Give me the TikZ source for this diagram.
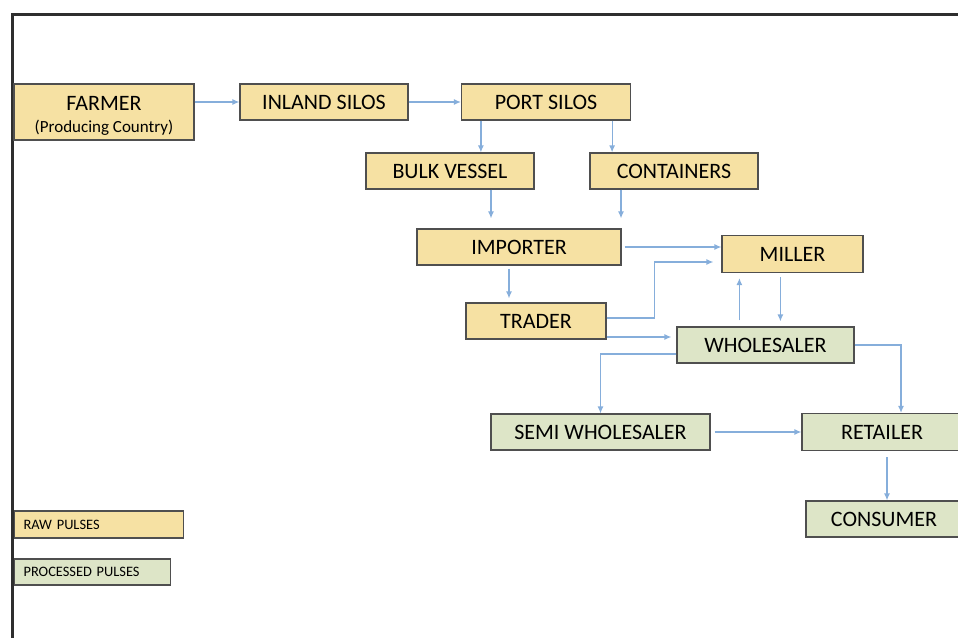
\documentclass[tikz,border=0pt]{standalone}
\usepackage{fontspec}
\setmainfont{Carlito}
\usetikzlibrary{calc,arrows.meta}
\definecolor{sand}{HTML}{F6E1A3}
\definecolor{sage}{HTML}{DDE5C7}
\definecolor{edgegray}{HTML}{4F4F4F}
\definecolor{flowblue}{HTML}{86AEDB}
\definecolor{framegray}{HTML}{2E2E2E}

\begin{document}
\begin{tikzpicture}[x=1pt,y=-1pt,
		box/.style={draw=edgegray,line width=1.2pt,inner sep=0pt,font=\fontsize{22}{24}\selectfont},
		raw/.style={box,fill=sand},
		processed/.style={box,fill=sage},
		key/.style={font=\fontsize{14.4}{16}\selectfont,align=left,inner xsep=9pt},
		flow/.style={draw=flowblue,line width=1.2pt,-{Latex[length=7pt,width=6pt]}}]
	\useasboundingbox (0,0) rectangle (958,637);
	\clip (0,0) rectangle (958,637);
	\draw[framegray,line width=3pt] (12,650) -- (12,14) -- (970,14);
	\node[raw,minimum width=180pt,minimum height=56pt,align=center] (farmer) at (104,112) {\rule{0pt}{22pt}FARMER\\[-2pt]{\fontsize{17}{19}\selectfont(Producing Country)}};
	\node[raw,minimum width=168pt,minimum height=36pt] (inland) at (324,102) {INLAND SILOS};
	\node[raw,minimum width=169pt,minimum height=36pt] (port) at (546,102) {PORT SILOS};
	\node[raw,minimum width=168pt,minimum height=36pt] (bulk) at (450,171) {BULK VESSEL};
	\node[raw,minimum width=168pt,minimum height=36pt] (containers) at (674,171) {CONTAINERS};
	\node[raw,minimum width=204pt,minimum height=36pt] (importer) at (519,247) {IMPORTER};
	\node[raw,minimum width=141pt,minimum height=37pt] (miller) at (792.5,254) {MILLER};
	\node[raw,minimum width=140pt,minimum height=36pt] (trader) at (536,321) {TRADER};
	\node[processed,minimum width=177pt,minimum height=36pt] (wholesaler) at (765.5,345) {WHOLESALER};
	\node[processed,minimum width=219pt,minimum height=36pt] (semi) at (600.5,432) {SEMI WHOLESALER};
	\node[processed,minimum width=160pt,minimum height=37pt] (retailer) at (882,432) {RETAILER};
	\node[processed,minimum width=156pt,minimum height=36pt] (consumer) at (884,519) {CONSUMER};
	\node[raw,key,text width=151pt,minimum height=27pt,anchor=west] (rawkey) at (14,524.5) {RAW PULSES};
	\node[processed,key,text width=138pt,minimum height=26pt,anchor=west] (prockey) at (14,572) {PROCESSED PULSES};
	\coordinate (p1) at ($(port.south west)+(20,0)$);
	\coordinate (p2) at ($(port.south east)+(-19,0)$);
	\coordinate (b1) at ($(bulk.south)+(41,0)$);
	\coordinate (c1) at ($(containers.south)+(-53,0)$);
	\coordinate (i1) at ($(importer.south)+(-10,0)$);
	\coordinate (t1) at ($(trader.east)+(0,-3)$);
	\coordinate (t2) at ($(trader.east)+(0,16)$);
	\coordinate (m1) at ($(miller.west)+(0,8)$);
	\coordinate (m2) at ($(miller.south west)+(59,0)$);
	\coordinate (w1) at ($(wholesaler.north west)+(63,0)$);
	\coordinate (w2) at ($(wholesaler.west)+(0,9)$);
	\coordinate (r1) at ($(retailer.north)+(19,0)$);
	\coordinate (r2) at ($(retailer.south)+(5,0)$);
	\draw[flow] (farmer.east |- inland.west) -- (inland.west);
	\draw[flow] (inland) -- (port);
	\draw[flow] (p1) -- (p1 |- bulk.north);
	\draw[flow] (p2) -- (p2 |- containers.north);
	\draw[flow,shorten >=10pt] (b1) -- (b1 |- importer.north);
	\draw[flow,shorten >=10pt] (c1) -- (c1 |- importer.north);
	\draw[flow,shorten <=3pt] (importer.east) -- (importer.east -| miller.west);
	\draw[flow,shorten <=3pt,shorten >=4pt] (i1) -- (i1 |- trader.north);
	\draw[flow,shorten >=8pt] (t1) -- ++(48,0) |- (m1);
	\draw[flow,shorten >=5pt] (t2) -- (t2 -| wholesaler.west);
	\draw[flow,shorten <=6pt,shorten >=5pt] (w1) -- (w1 |- miller.south);
	\draw[flow,shorten <=4pt,shorten >=5pt] (m2) -- (m2 |- wholesaler.north);
	\draw[flow] (w2) -| (semi.north);
	\draw[flow] (wholesaler.east) -| (r1);
	\draw[flow,shorten <=4pt] (semi) -- (retailer);
	\draw[flow,shorten <=6pt] (r2) -- (r2 |- consumer.north);
\end{tikzpicture}
\end{document}
